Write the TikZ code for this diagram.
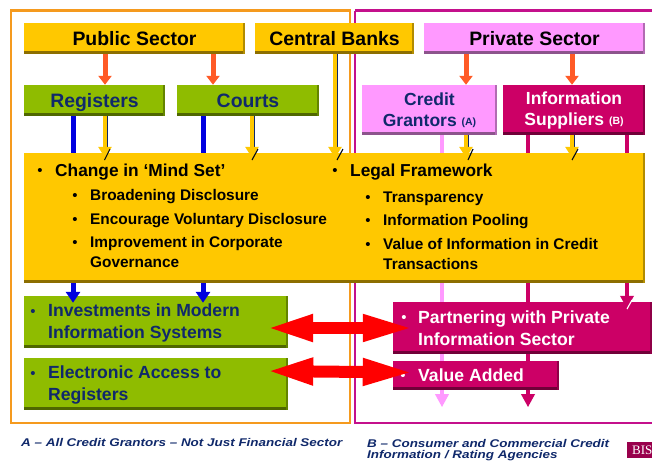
\documentclass[tikz,border=0pt]{standalone}
\usepackage{fontspec}
\setmainfont{Liberation Sans}
\newfontfamily\bisfont{Liberation Serif}
\newfontfamily\footfont[FakeStretch=1.2]{Liberation Sans}
\usetikzlibrary{arrows.meta,calc}
\definecolor{cyel}{HTML}{FFC800}
\definecolor{cgrn}{HTML}{8FBC00}
\definecolor{cpnk}{HTML}{FF99FF}
\definecolor{cmag}{HTML}{CC0066}
\definecolor{cnavy}{HTML}{10296B}
\definecolor{cfro}{HTML}{F59A1E}
\definecolor{cfrm}{HTML}{C4108C}
\definecolor{cor}{HTML}{FF5A26}
\definecolor{cblu}{HTML}{0000E0}
\tikzset{
  x=1pt,y=1pt,
  box/.style n args={3}{draw=none,fill=#1,inner sep=0pt,minimum width=#2,minimum height=#3,align=center,
    font=\fontsize{19.4}{24}\selectfont\bfseries,
    path picture={
      \fill[#1!55!black] ([yshift=3]path picture bounding box.south west) rectangle (path picture bounding box.south east);
      \fill[#1!70!black] ([xshift=-2]path picture bounding box.south east) rectangle (path picture bounding box.north east);
    }},
  oneline/.style={text height=16pt,text depth=2pt},
  frame/.style={line width=2.8pt},
  thinarrow/.style={cor,line width=5pt,-{Triangle[length=9pt,width=13pt]}},
  bluebar/.style={cblu,line width=5pt},
  bluearrow/.style={cblu,line width=5pt,-{Triangle[length=11pt,width=14pt]}},
  yelarrow/.style={cyel,line width=4.5pt,-{Triangle[length=11pt,width=13pt]}},
  sliver/.style={cnavy,line width=0.9pt},
  tick/.style={black!80!cnavy,line width=1.1pt},
  pinkbar/.style={cpnk,line width=4.5pt},
  magbar/.style={cmag,line width=4.5pt},
  pinkarrow/.style={cpnk,line width=4.5pt,-{Triangle[length=13pt,width=13pt]}},
  magarrow/.style={cmag,line width=4.5pt,-{Triangle[length=13pt,width=13pt]}},
  redarrow/.style={red,line width=12pt,{Triangle[length=49pt,width=24pt]}-{Triangle[length=53pt,width=24pt]}},
  headtxt/.style={font=\fontsize{17.3}{20}\selectfont\bfseries,anchor=west,inner sep=0pt},
  subtxt/.style={font=\fontsize{15.4}{20}\selectfont\bfseries,anchor=west,inner sep=0pt,align=left},
  bultxt/.style={font=\fontsize{15}{18}\selectfont,anchor=center,inner sep=0pt},
  listtxt/.style={font=\fontsize{17.6}{22}\selectfont\bfseries,anchor=north west,inner sep=0pt,align=left},
  foot/.style={font=\footfont\fontsize{11.2}{13}\selectfont\bfseries\itshape,text=cnavy,anchor=west,inner sep=0pt,align=left},
}
\begin{document}
\begin{tikzpicture}
\useasboundingbox (0,0) rectangle (652,-461);
\fill[white] (0,0) rectangle (652,-461);
% frames
\draw[frame,cfro] (11,-10.5) rectangle (350,-423);
\draw[frame,cfrm] (355,-10.5) -- (660,-10.5);
\draw[frame,cfrm] (355,-10.5) -- (355,-423) -- (660,-423);
% top row
\node[box={cyel}{221}{31},oneline] (pub) at (134.5,-38.5) {Public Sector};
\node[box={cyel}{159}{31},oneline] (cen) at (334.5,-38.5) {Central Banks};
\node[box={cpnk}{221}{31},oneline] (pri) at (534.5,-38.5) {Private Sector};
% second row
\node[box={cgrn}{141}{31},text=cnavy,oneline] (reg) at (94.5,-100.5) {Registers};
\node[box={cgrn}{142}{31},text=cnavy,oneline] (cou) at (248,-100.5) {Courts};
\node[box={cpnk}{135}{50},text=cnavy,font=\fontsize{17.5}{21}\selectfont\bfseries] (gra) at (429.5,-110)
  {\raisebox{-1pt}{Credit}\\\raisebox{-1pt}{Grantors {\fontsize{10.5}{12}\selectfont\raisebox{1pt}{(A)}}}};
\node[box={cmag}{142}{50},text=white,font=\fontsize{17.5}{21}\selectfont\bfseries] (sup) at (574,-110)
  {\raisebox{-1pt}{Information}\\\raisebox{-1pt}{Suppliers {\fontsize{10.5}{12}\selectfont\raisebox{1pt}{(B)}}}};
% big box
\node[box={cyel}{621}{130}] (big) at (334.5,-218) {};
% lower boxes
\node[box={cgrn}{264}{52}] (g1) at (156,-322) {};
\node[box={cgrn}{264}{52}] (g2) at (156,-384) {};
\node[box={cmag}{259}{52}] (m1) at (522.5,-328) {};
\node[box={cmag}{166}{29}] (m2) at (476,-375.5) {};
% x positions of the connectors
\coordinate (xa) at (105,0);
\coordinate (xb) at (213,0);
\coordinate (xc) at (466,0);
\coordinate (xd) at (572,0);
\coordinate (xe) at (73,0);
\coordinate (xf) at (203,0);
\coordinate (xg) at (252,0);
\coordinate (xh) at (335,0);
\coordinate (xi) at (442,0);
\coordinate (xj) at (528,0);
\coordinate (xk) at (627,0);
% sector arrows
\draw[thinarrow] (pub.south -| xa) -- (reg.north -| xa);
\draw[thinarrow] (pub.south -| xb) -- (cou.north -| xb);
\draw[thinarrow] (pri.south -| xc) -- (gra.north -| xc);
\draw[thinarrow] (pri.south -| xd) -- (sup.north -| xd);
% blue
\draw[bluebar] (reg.south -| xe) -- (big.north -| xe);
\draw[bluebar] (cou.south -| xf) -- (big.north -| xf);
\draw[bluearrow] (big.south -| xe) -- ([yshift=-7]g1.north -| xe);
\draw[bluearrow] (big.south -| xf) -- ([yshift=-7]g1.north -| xf);
% navy slivers
\draw[sliver] ([xshift=2.5]reg.south -| xa) -- ([xshift=2.5]big.north -| xa);
\draw[sliver] ([xshift=2.5]cou.south -| xg) -- ([xshift=2.5]big.north -| xg);
\draw[sliver] ([xshift=2.5]cen.south -| xh) -- ([xshift=2.5]big.north -| xh);
\draw[sliver] ([xshift=2.5]gra.south -| xc) -- ([xshift=2.5]big.north -| xc);
\draw[sliver] ([xshift=2.5]sup.south -| xd) -- ([xshift=2.5]big.north -| xd);
% yellow arrows
\draw[yelarrow] (reg.south -| xa) -- ([yshift=-5]big.north -| xa);
\draw[yelarrow] (cou.south -| xg) -- ([yshift=-5]big.north -| xg);
\draw[yelarrow] (cen.south -| xh) -- ([yshift=-5]big.north -| xh);
\draw[yelarrow] (gra.south -| xc) -- ([yshift=-5]big.north -| xc);
\draw[yelarrow] (sup.south -| xd) -- ([yshift=-5]big.north -| xd);
% ticks
\draw[tick] (104.5,-160) -- (110,-149);
\draw[tick] (252,-160) -- (258,-149);
\draw[tick] (337,-160) -- (343,-149);
\draw[tick] (468,-160) -- (473,-149);
\draw[tick] (572,-160) -- (578,-149);
% pink and magenta lines
\draw[pinkbar] (gra.south -| xi) -- (big.north -| xi);
\draw[pinkbar] (big.south -| xi) -- (m1.north -| xi);
\draw[pinkbar] (m1.south -| xi) -- (m2.north -| xi);
\draw[pinkarrow] (m2.south -| xi) -- ++(0,-17);
\draw[magbar] (sup.south -| xj) -- (big.north -| xj);
\draw[magbar] (big.south -| xj) -- (m1.north -| xj);
\draw[magbar] (m1.south -| xj) -- (m2.north -| xj);
\draw[magarrow] (m2.south -| xj) -- ++(0,-17);
\draw[magbar] (sup.south -| xk) -- (big.north -| xk);
\draw[magarrow] (big.south -| xk) -- ([yshift=-7]m1.north -| xk);
\draw[white,line width=1.1pt] (627,-309) -- (632,-300);
% big box text
\node[bultxt] (b1) at (40,-172) {•};
\node[headtxt] (t1) at (55,-172) {Change in ‘Mind Set’};
\node[bultxt] (b2) at (75,-197) {•};
\node[subtxt] (t2) at (90,-197) {Broadening Disclosure};
\node[bultxt] (b3) at (75,-221) {•};
\node[subtxt] (t3) at (90,-221) {Encourage Voluntary Disclosure};
\node[bultxt] (b4) at (75,-244) {•};
\node[subtxt,anchor=north west] (t4) at (90,-236) {Improvement in Corporate\\Governance};
\node[bultxt] (b5) at (335,-172) {•};
\node[headtxt] (t5) at (350,-172) {Legal Framework};
\node[bultxt] (b6) at (368,-199) {•};
\node[subtxt] (t6) at (383,-199) {Transparency};
\node[bultxt] (b7) at (368,-222) {•};
\node[subtxt] (t7) at (383,-222) {Information Pooling};
\node[bultxt] (b8) at (368,-246) {•};
\node[subtxt,anchor=north west] (t8) at (383,-238) {Value of Information in Credit\\Transactions};
% lower box text
\node[bultxt,text=cnavy] (b9) at (33,-313) {•};
\node[listtxt,text=cnavy] (t9) at (48,-304) {Investments in Modern\\Information Systems};
\node[bultxt,text=cnavy] (b10) at (33,-375) {•};
\node[listtxt,text=cnavy] (t10) at (48,-366) {Electronic Access to\\Registers};
\node[bultxt,text=white] (b11) at (404,-319) {•};
\node[listtxt,text=white] (t11) at (418,-311) {Partnering with Private\\Information Sector};
\node[bultxt,text=white] (b12) at (403,-377) {•};
\node[listtxt,text=white] (t12) at (418,-369) {Value Added};
% red arrows
\draw[redarrow] ([xshift=-24,yshift=-6]g1.east) -- ([xshift=23]m1.west);
\draw[redarrow] ([xshift=-24,yshift=13]g2.east) -- ([xshift=23,yshift=3]m2.west);
% footers
\node[foot] (f1) at (21,-442.5) {A – All Credit Grantors – Not Just Financial Sector};
\node[foot] (f2) at (367,-443) {B – Consumer and Commercial Credit};
\node[foot] (f3) at (367,-455.5) {Information / Rating Agencies};
% logo
\node[fill=black!25!cmag,text=white,font=\bisfont\fontsize{13}{15}\selectfont,inner sep=0pt,anchor=west,minimum height=16,minimum width=30] (bis) at (627,-450) {BIS};
\end{tikzpicture}
\end{document}
